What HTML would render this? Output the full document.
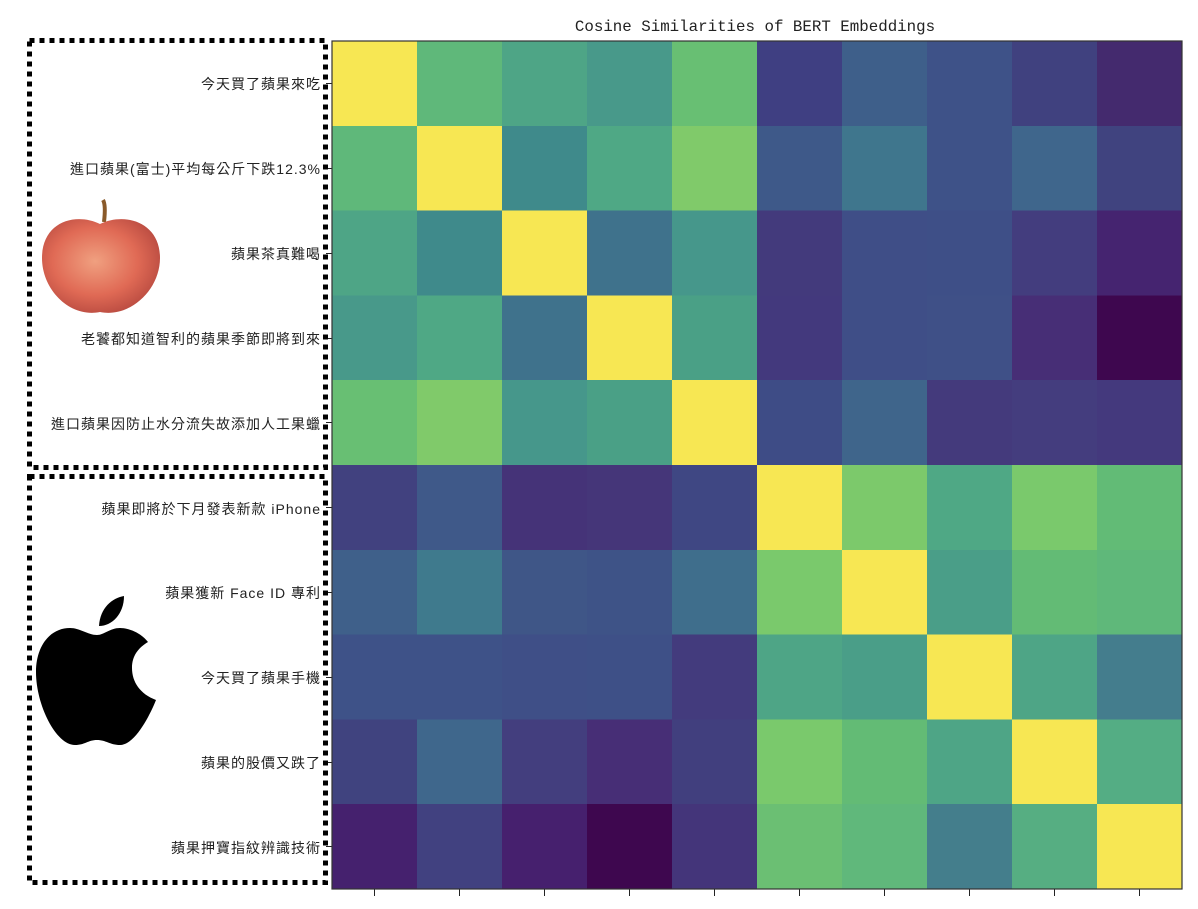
<!DOCTYPE html>
<html><head><meta charset="utf-8"><style>
body{margin:0;background:#fff;width:1198px;height:904px;overflow:hidden}
</style></head><body>
<svg width="1198" height="904" xmlns="http://www.w3.org/2000/svg">
<defs>
<radialGradient id="ag" cx="0.45" cy="0.45" r="0.6">
<stop offset="0" stop-color="#f0a080"/><stop offset="0.6" stop-color="#e06a55"/><stop offset="1" stop-color="#b84a40"/>
</radialGradient>
</defs>
<text x="755" y="31" text-anchor="middle" font-family="Liberation Mono, monospace" font-size="15.8" fill="#222">Cosine Similarities of BERT Embeddings</text>
<g shape-rendering="crispEdges">
<g transform="translate(0,41)">
<rect x="332" width="86" height="86" fill="#f7e753"/><rect x="417" width="86" height="86" fill="#5fb87a"/><rect x="502" width="86" height="86" fill="#4ea586"/><rect x="587" width="86" height="86" fill="#48998a"/><rect x="672" width="86" height="86" fill="#68bf73"/><rect x="757" width="86" height="86" fill="#3f3f82"/><rect x="842" width="86" height="86" fill="#3e5f8a"/><rect x="927" width="86" height="86" fill="#3e5288"/><rect x="1012" width="86" height="86" fill="#40417f"/><rect x="1097" width="85" height="86" fill="#442a6e"/>
</g>
<g transform="translate(0,125.8)">
<rect x="332" width="86" height="86" fill="#5fb87a"/><rect x="417" width="86" height="86" fill="#f7e753"/><rect x="502" width="86" height="86" fill="#3f8a8b"/><rect x="587" width="86" height="86" fill="#4fa885"/><rect x="672" width="86" height="86" fill="#80ca6a"/><rect x="757" width="86" height="86" fill="#3e5989"/><rect x="842" width="86" height="86" fill="#3f768d"/><rect x="927" width="86" height="86" fill="#3e5288"/><rect x="1012" width="86" height="86" fill="#3f668c"/><rect x="1097" width="85" height="86" fill="#40437f"/>
</g>
<g transform="translate(0,210.6)">
<rect x="332" width="86" height="86" fill="#4ea586"/><rect x="417" width="86" height="86" fill="#3f8a8b"/><rect x="502" width="86" height="86" fill="#f7e753"/><rect x="587" width="86" height="86" fill="#3f728c"/><rect x="672" width="86" height="86" fill="#46978b"/><rect x="757" width="86" height="86" fill="#433a7c"/><rect x="842" width="86" height="86" fill="#3f4e87"/><rect x="927" width="86" height="86" fill="#3e4f87"/><rect x="1012" width="86" height="86" fill="#433d7e"/><rect x="1097" width="85" height="86" fill="#452470"/>
</g>
<g transform="translate(0,295.4)">
<rect x="332" width="86" height="86" fill="#48998a"/><rect x="417" width="86" height="86" fill="#4fa885"/><rect x="502" width="86" height="86" fill="#3f728c"/><rect x="587" width="86" height="86" fill="#f7e753"/><rect x="672" width="86" height="86" fill="#4aa086"/><rect x="757" width="86" height="86" fill="#43397d"/><rect x="842" width="86" height="86" fill="#3f4e87"/><rect x="927" width="86" height="86" fill="#3f5087"/><rect x="1012" width="86" height="86" fill="#472e76"/><rect x="1097" width="85" height="86" fill="#3e074f"/>
</g>
<g transform="translate(0,380.2)">
<rect x="332" width="86" height="86" fill="#68bf73"/><rect x="417" width="86" height="86" fill="#80ca6a"/><rect x="502" width="86" height="86" fill="#46978b"/><rect x="587" width="86" height="86" fill="#4aa086"/><rect x="672" width="86" height="86" fill="#f7e753"/><rect x="757" width="86" height="86" fill="#3e4c86"/><rect x="842" width="86" height="86" fill="#3f658b"/><rect x="927" width="86" height="86" fill="#443a7c"/><rect x="1012" width="86" height="86" fill="#443d7e"/><rect x="1097" width="85" height="86" fill="#44397d"/>
</g>
<g transform="translate(0,465)">
<rect x="332" width="86" height="86" fill="#41417f"/><rect x="417" width="86" height="86" fill="#3f5989"/><rect x="502" width="86" height="86" fill="#453378"/><rect x="587" width="86" height="86" fill="#453679"/><rect x="672" width="86" height="86" fill="#3f4783"/><rect x="757" width="86" height="86" fill="#f7e753"/><rect x="842" width="86" height="86" fill="#7cc96b"/><rect x="927" width="86" height="86" fill="#4fa885"/><rect x="1012" width="86" height="86" fill="#7ac96c"/><rect x="1097" width="85" height="86" fill="#62bb76"/>
</g>
<g transform="translate(0,549.8)">
<rect x="332" width="86" height="86" fill="#3f608a"/><rect x="417" width="86" height="86" fill="#3f7a8d"/><rect x="502" width="86" height="86" fill="#3f5687"/><rect x="587" width="86" height="86" fill="#3e5387"/><rect x="672" width="86" height="86" fill="#3f6e8c"/><rect x="757" width="86" height="86" fill="#7ac96c"/><rect x="842" width="86" height="86" fill="#f7e753"/><rect x="927" width="86" height="86" fill="#4a9e88"/><rect x="1012" width="86" height="86" fill="#63bb75"/><rect x="1097" width="85" height="86" fill="#5fb87a"/>
</g>
<g transform="translate(0,634.6)">
<rect x="332" width="86" height="86" fill="#3e5288"/><rect x="417" width="86" height="86" fill="#3e5288"/><rect x="502" width="86" height="86" fill="#3f4f87"/><rect x="587" width="86" height="86" fill="#3e5087"/><rect x="672" width="86" height="86" fill="#433b7d"/><rect x="757" width="86" height="86" fill="#4ea586"/><rect x="842" width="86" height="86" fill="#4a9e88"/><rect x="927" width="86" height="86" fill="#f7e753"/><rect x="1012" width="86" height="86" fill="#4ea586"/><rect x="1097" width="85" height="86" fill="#447d8d"/>
</g>
<g transform="translate(0,719.4)">
<rect x="332" width="86" height="86" fill="#40437f"/><rect x="417" width="86" height="86" fill="#3f678c"/><rect x="502" width="86" height="86" fill="#433e7e"/><rect x="587" width="86" height="86" fill="#472e76"/><rect x="672" width="86" height="86" fill="#413f7e"/><rect x="757" width="86" height="86" fill="#7ac96c"/><rect x="842" width="86" height="86" fill="#63bb75"/><rect x="927" width="86" height="86" fill="#4ea586"/><rect x="1012" width="86" height="86" fill="#f7e753"/><rect x="1097" width="85" height="86" fill="#54ad84"/>
</g>
<g transform="translate(0,804.2)">
<rect x="332" width="86" height="85" fill="#45216e"/><rect x="417" width="86" height="85" fill="#414180"/><rect x="502" width="86" height="85" fill="#46206e"/><rect x="587" width="86" height="85" fill="#3e074f"/><rect x="672" width="86" height="85" fill="#44357a"/><rect x="757" width="86" height="85" fill="#6bbf73"/><rect x="842" width="86" height="85" fill="#60b87b"/><rect x="927" width="86" height="85" fill="#447e8c"/><rect x="1012" width="86" height="85" fill="#56ae82"/><rect x="1097" width="85" height="85" fill="#f7e753"/>
</g>
</g>
<g stroke="#222" stroke-width="1">
<line x1="374.5" y1="889" x2="374.5" y2="896"/><line x1="459.5" y1="889" x2="459.5" y2="896"/><line x1="544.5" y1="889" x2="544.5" y2="896"/><line x1="629.5" y1="889" x2="629.5" y2="896"/><line x1="714.5" y1="889" x2="714.5" y2="896"/><line x1="799.5" y1="889" x2="799.5" y2="896"/><line x1="884.5" y1="889" x2="884.5" y2="896"/><line x1="969.5" y1="889" x2="969.5" y2="896"/><line x1="1054.5" y1="889" x2="1054.5" y2="896"/><line x1="1139.5" y1="889" x2="1139.5" y2="896"/>
<line x1="326" y1="83.5" x2="332" y2="83.5"/><line x1="326" y1="168.5" x2="332" y2="168.5"/><line x1="326" y1="253.5" x2="332" y2="253.5"/><line x1="326" y1="338.5" x2="332" y2="338.5"/><line x1="326" y1="422.5" x2="332" y2="422.5"/><line x1="326" y1="507.5" x2="332" y2="507.5"/><line x1="326" y1="592.5" x2="332" y2="592.5"/><line x1="326" y1="677.5" x2="332" y2="677.5"/><line x1="326" y1="762.5" x2="332" y2="762.5"/><line x1="326" y1="846.5" x2="332" y2="846.5"/>
</g>
<rect x="332" y="41" width="850" height="848" fill="none" stroke="#333" stroke-width="1.2"/>
<g font-family="Liberation Sans, Noto Sans CJK TC, sans-serif" font-size="14" letter-spacing="1" fill="#222" text-anchor="end">
<text x="321" y="89">今天買了蘋果來吃</text>
<text x="321" y="174">進口蘋果(富士)平均每公斤下跌12.3%</text>
<text x="321" y="259">蘋果茶真難喝</text>
<text x="321" y="344">老饕都知道智利的蘋果季節即將到來</text>
<text x="321" y="429">進口蘋果因防止水分流失故添加人工果蠟</text>
<text x="321" y="514">蘋果即將於下月發表新款 iPhone</text>
<text x="321" y="598">蘋果獲新 Face ID 專利</text>
<text x="321" y="683">今天買了蘋果手機</text>
<text x="321" y="768">蘋果的股價又跌了</text>
<text x="321" y="853">蘋果押寶指紋辨識技術</text>
</g>
<g fill="none" stroke="#000" stroke-width="5" stroke-dasharray="5 5">
<rect x="29.5" y="40.5" width="296" height="427"/>
<rect x="29.5" y="476.5" width="296" height="406"/>
</g>
<path d="M103 200 Q106 205 104 222" stroke="#8a5a2a" stroke-width="4" fill="none"/>
<path d="M100 224 C75 212 42 222 42 258 C42 290 70 318 100 312 C130 318 160 290 160 258 C160 222 125 212 100 224 Z" fill="url(#ag)"/>
<path d="M124 596 C112 598 100 608 99 626 C112 626 124 614 124 596 Z" fill="#000"/>
<path d="M97 635 C88 635 80 628 70 628 C50 628 36 646 36 672 C36 705 56 745 75 745 C85 745 88 740 97 740 C106 740 110 745 120 745 C135 745 150 715 156 700 C140 694 132 682 132 668 C132 656 138 648 148 642 C140 632 128 628 120 628 C110 628 104 635 97 635 Z" fill="#000"/>
</svg>
</body></html>
